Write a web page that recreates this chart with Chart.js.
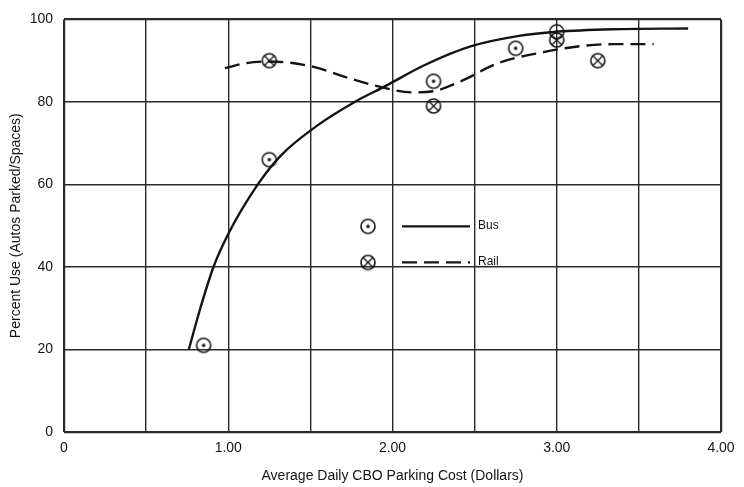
<!DOCTYPE html>
<html>
<head>
<meta charset="utf-8">
<script src="https://cdn.jsdelivr.net/npm/chart.js@4.4.3/dist/chart.umd.min.js"></script>
<style>
  html, body { margin: 0; padding: 0; background: #fff; }
  canvas { display: block; }
</style>
</head>
<body>
<canvas id="chart" width="744" height="487"></canvas>
<script>
// -----------------------------
// Parking use vs. CBD parking cost
// -----------------------------

// observed points
const busPointsX = [0.85, 1.25, 2.25, 2.75, 3.0];
const busPointsY = [21, 66, 85, 93, 97];
const railPointsX = [1.25, 2.25, 3.0, 3.25];
const railPointsY = [90, 79, 95, 90];

// fitted curves
const busCurveX = [0.76, 0.83, 0.91, 1.0, 1.18, 1.32, 1.55, 1.77, 1.95, 2.2, 2.48, 2.77, 3.0, 3.34, 3.8];
const busCurveY = [20, 30, 40, 48, 60, 67, 74.5, 80, 83.7, 89, 93.5, 96, 97, 97.6, 97.8];
const railCurveX = [0.98, 1.11, 1.25, 1.52, 1.7, 1.92, 2.12, 2.25, 2.41, 2.65, 2.91, 3.14, 3.34, 3.59];
const railCurveY = [88.2, 89.4, 89.8, 88.5, 86.2, 83.7, 82.3, 82.6, 84.9, 89.5, 92, 93.5, 94, 94];

const seriesLabels = ["Bus", "Rail"];
const xTickLabels = ["0", "1.00", "2.00", "3.00", "4.00"];
const yTickLabels = ["0", "20", "40", "60", "80", "100"];

const INK = "#141414";
const FONT = "'Liberation Sans', Arial, sans-serif";

function makeMarker(kind) {
    const c = document.createElement("canvas");
    c.width = 18;
    c.height = 18;
    const g = c.getContext("2d");
    g.strokeStyle = INK;
    g.fillStyle = INK;
    g.lineWidth = 1.6;
    g.beginPath();
    g.arc(9, 9, 7, 0, Math.PI * 2);
    g.stroke();
    if (kind === "dot") {
        g.beginPath();
        g.arc(9, 9, 1.8, 0, Math.PI * 2);
        g.fill();
    } else {
        g.lineWidth = 1.3;
        g.beginPath();
        g.moveTo(4.2, 4.2); g.lineTo(13.8, 13.8);
        g.moveTo(13.8, 4.2); g.lineTo(4.2, 13.8);
        g.stroke();
    }
    return c;
}

const busMarker = makeMarker("dot");
const railMarker = makeMarker("cross");

const zip = (xs, ys) => xs.map((x, i) => ({ x, y: ys[i] }));

// legend drawn inside the plot (marker, line sample, label)
const insideLegend = {
    id: "insideLegend",
    afterDraw(chart, args, opts) {
        const { ctx, chartArea } = chart;
        const sets = chart.data.datasets;
        opts.items.forEach((item, i) => {
            const curve = sets[item.curve];
            const marks = sets[item.marks];
            const y = chartArea.top + opts.top + i * opts.gap;
            const mx = chartArea.left + opts.left;
            ctx.save();
            ctx.drawImage(marks.pointStyle, mx - 9, y - 9);
            ctx.strokeStyle = curve.borderColor;
            ctx.lineWidth = curve.borderWidth;
            ctx.setLineDash(curve.borderDash || []);
            ctx.beginPath();
            ctx.moveTo(mx + 34, y);
            ctx.lineTo(mx + 102, y);
            ctx.stroke();
            ctx.fillStyle = INK;
            ctx.font = "12px " + FONT;
            ctx.textBaseline = "middle";
            ctx.fillText(curve.label, mx + 110, y - 1);
            ctx.restore();
        });
    }
};

const edgeWidth = (max) => (c) => (c.tick && (c.tick.value === 0 || c.tick.value === max) ? 2.2 : 1.4);

new Chart(document.getElementById("chart"), {
    type: "scatter",
    data: {
        datasets: [
            {
                label: seriesLabels[0],
                type: "line",
                data: zip(busCurveX, busCurveY),
                borderColor: INK,
                borderWidth: 2.4,
                pointRadius: 0,
                cubicInterpolationMode: "monotone",
                fill: false
            },
            {
                label: seriesLabels[1],
                type: "line",
                data: zip(railCurveX, railCurveY),
                borderColor: INK,
                borderWidth: 2.4,
                borderDash: [15, 7],
                pointRadius: 0,
                cubicInterpolationMode: "monotone",
                fill: false
            },
            {
                label: seriesLabels[0] + " observed",
                data: zip(busPointsX, busPointsY),
                pointStyle: busMarker,
                pointRadius: 9,
                showLine: false
            },
            {
                label: seriesLabels[1] + " observed",
                data: zip(railPointsX, railPointsY),
                pointStyle: railMarker,
                pointRadius: 9,
                showLine: false
            }
        ]
    },
    options: {
        responsive: false,
        animation: false,
        layout: { padding: { top: 15, right: 23, left: 0, bottom: 0 } },
        plugins: {
            legend: { display: false },
            tooltip: { enabled: false },
            insideLegend: {
                left: 304,
                top: 207,
                gap: 36,
                items: [{ curve: 0, marks: 2 }, { curve: 1, marks: 3 }]
            }
        },
        scales: {
            x: {
                type: "linear",
                min: 0,
                max: 4,
                afterFit: (s) => { s.height = 55; },
                grid: { color: "#2a2a2a", lineWidth: edgeWidth(4), drawTicks: false },
                border: { display: false },
                ticks: {
                    stepSize: 0.5,
                    autoSkip: false,
                    maxRotation: 0,
                    padding: 8,
                    color: INK,
                    font: { family: FONT, size: 14 },
                    callback: (v) => (Number.isInteger(v) ? xTickLabels[v] : "")
                },
                title: {
                    display: true,
                    text: "Average Daily CBO Parking Cost (Dollars)",
                    color: INK,
                    font: { family: FONT, size: 14 },
                    padding: { top: 0, bottom: 2 }
                }
            },
            y: {
                min: 0,
                max: 100,
                afterFit: (s) => { s.width = 64; },
                grid: { color: "#2a2a2a", lineWidth: edgeWidth(100), drawTicks: false },
                border: { display: false },
                ticks: {
                    stepSize: 20,
                    padding: 11,
                    color: INK,
                    font: { family: FONT, size: 14 },
                    callback: (v) => yTickLabels[v / 20]
                },
                title: {
                    display: true,
                    text: "Percent Use (Autos Parked/Spaces)",
                    color: INK,
                    font: { family: FONT, size: 14 },
                    padding: { top: 8, bottom: 0 }
                }
            }
        }
    },
    plugins: [insideLegend]
});
</script>
</body>
</html>
